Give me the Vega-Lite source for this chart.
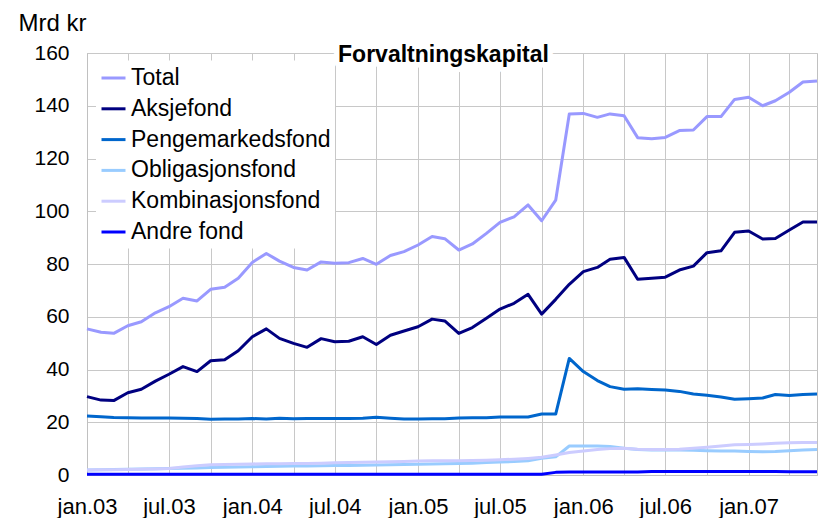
{
  "$schema": "https://vega.github.io/schema/vega-lite/v6.json",
  "width": 730,
  "height": 422,
  "autosize": {"type": "none"},
  "padding": {"left": 87, "top": 53, "right": 4, "bottom": 43},
  "background": "white",
  "config": {
    "font": "Liberation Sans",
    "view": {"stroke": "#c0c0c0", "strokeWidth": 1},
    "axis": {
      "gridColor": "#c8c8c8",
      "gridWidth": 1,
      "domainColor": "#c0c0c0",
      "labelColor": "black",
      "labelFont": "Liberation Sans",
      "ticks": false
    }
  },
  "datasets": {
    "fond": [
      {"d": "2003-01-01", "Total": 55.4, "Aksjefond": 29.7, "Pengemarkedsfond": 22.4, "Obligasjonsfond": 1.9, "Kombinasjonsfond": 1.9, "Andre fond": 0.3},
      {"d": "2003-02-01", "Total": 54.1, "Aksjefond": 28.4, "Pengemarkedsfond": 22.1, "Obligasjonsfond": 2.0, "Kombinasjonsfond": 2.0, "Andre fond": 0.3},
      {"d": "2003-03-01", "Total": 53.7, "Aksjefond": 28.2, "Pengemarkedsfond": 21.8, "Obligasjonsfond": 2.1, "Kombinasjonsfond": 2.0, "Andre fond": 0.3},
      {"d": "2003-04-01", "Total": 56.6, "Aksjefond": 31.2, "Pengemarkedsfond": 21.7, "Obligasjonsfond": 2.2, "Kombinasjonsfond": 2.1, "Andre fond": 0.3},
      {"d": "2003-05-01", "Total": 58.1, "Aksjefond": 32.5, "Pengemarkedsfond": 21.6, "Obligasjonsfond": 2.3, "Kombinasjonsfond": 2.2, "Andre fond": 0.3},
      {"d": "2003-06-01", "Total": 61.5, "Aksjefond": 35.6, "Pengemarkedsfond": 21.6, "Obligasjonsfond": 2.4, "Kombinasjonsfond": 2.3, "Andre fond": 0.3},
      {"d": "2003-07-01", "Total": 63.8, "Aksjefond": 38.2, "Pengemarkedsfond": 21.6, "Obligasjonsfond": 2.5, "Kombinasjonsfond": 2.5, "Andre fond": 0.3},
      {"d": "2003-08-01", "Total": 67.0, "Aksjefond": 41.1, "Pengemarkedsfond": 21.5, "Obligasjonsfond": 2.6, "Kombinasjonsfond": 3.0, "Andre fond": 0.3},
      {"d": "2003-09-01", "Total": 66.0, "Aksjefond": 39.2, "Pengemarkedsfond": 21.4, "Obligasjonsfond": 2.7, "Kombinasjonsfond": 3.5, "Andre fond": 0.3},
      {"d": "2003-10-01", "Total": 70.4, "Aksjefond": 43.3, "Pengemarkedsfond": 21.1, "Obligasjonsfond": 2.8, "Kombinasjonsfond": 3.9, "Andre fond": 0.3},
      {"d": "2003-11-01", "Total": 71.2, "Aksjefond": 43.7, "Pengemarkedsfond": 21.2, "Obligasjonsfond": 2.9, "Kombinasjonsfond": 4.0, "Andre fond": 0.3},
      {"d": "2003-12-01", "Total": 74.6, "Aksjefond": 47.1, "Pengemarkedsfond": 21.2, "Obligasjonsfond": 3.0, "Kombinasjonsfond": 4.1, "Andre fond": 0.3},
      {"d": "2004-01-01", "Total": 80.6, "Aksjefond": 52.4, "Pengemarkedsfond": 21.4, "Obligasjonsfond": 3.1, "Kombinasjonsfond": 4.2, "Andre fond": 0.3},
      {"d": "2004-02-01", "Total": 84.0, "Aksjefond": 55.4, "Pengemarkedsfond": 21.2, "Obligasjonsfond": 3.2, "Kombinasjonsfond": 4.3, "Andre fond": 0.3},
      {"d": "2004-03-01", "Total": 81.1, "Aksjefond": 51.8, "Pengemarkedsfond": 21.5, "Obligasjonsfond": 3.3, "Kombinasjonsfond": 4.3, "Andre fond": 0.3},
      {"d": "2004-04-01", "Total": 78.7, "Aksjefond": 49.9, "Pengemarkedsfond": 21.3, "Obligasjonsfond": 3.4, "Kombinasjonsfond": 4.4, "Andre fond": 0.3},
      {"d": "2004-05-01", "Total": 77.7, "Aksjefond": 48.4, "Pengemarkedsfond": 21.4, "Obligasjonsfond": 3.4, "Kombinasjonsfond": 4.4, "Andre fond": 0.3},
      {"d": "2004-06-01", "Total": 80.8, "Aksjefond": 51.7, "Pengemarkedsfond": 21.4, "Obligasjonsfond": 3.5, "Kombinasjonsfond": 4.5, "Andre fond": 0.3},
      {"d": "2004-07-01", "Total": 80.3, "Aksjefond": 50.5, "Pengemarkedsfond": 21.4, "Obligasjonsfond": 3.6, "Kombinasjonsfond": 4.6, "Andre fond": 0.3},
      {"d": "2004-08-01", "Total": 80.5, "Aksjefond": 50.7, "Pengemarkedsfond": 21.4, "Obligasjonsfond": 3.6, "Kombinasjonsfond": 4.7, "Andre fond": 0.3},
      {"d": "2004-09-01", "Total": 82.1, "Aksjefond": 52.4, "Pengemarkedsfond": 21.5, "Obligasjonsfond": 3.7, "Kombinasjonsfond": 4.8, "Andre fond": 0.3},
      {"d": "2004-10-01", "Total": 79.9, "Aksjefond": 49.5, "Pengemarkedsfond": 21.9, "Obligasjonsfond": 3.8, "Kombinasjonsfond": 4.9, "Andre fond": 0.3},
      {"d": "2004-11-01", "Total": 83.2, "Aksjefond": 53.0, "Pengemarkedsfond": 21.5, "Obligasjonsfond": 3.9, "Kombinasjonsfond": 5.0, "Andre fond": 0.3},
      {"d": "2004-12-01", "Total": 84.7, "Aksjefond": 54.6, "Pengemarkedsfond": 21.2, "Obligasjonsfond": 4.0, "Kombinasjonsfond": 5.1, "Andre fond": 0.3},
      {"d": "2005-01-01", "Total": 87.2, "Aksjefond": 56.2, "Pengemarkedsfond": 21.2, "Obligasjonsfond": 4.1, "Kombinasjonsfond": 5.3, "Andre fond": 0.3},
      {"d": "2005-02-01", "Total": 90.4, "Aksjefond": 59.1, "Pengemarkedsfond": 21.3, "Obligasjonsfond": 4.2, "Kombinasjonsfond": 5.4, "Andre fond": 0.3},
      {"d": "2005-03-01", "Total": 89.6, "Aksjefond": 58.4, "Pengemarkedsfond": 21.3, "Obligasjonsfond": 4.3, "Kombinasjonsfond": 5.4, "Andre fond": 0.3},
      {"d": "2005-04-01", "Total": 85.3, "Aksjefond": 53.7, "Pengemarkedsfond": 21.6, "Obligasjonsfond": 4.4, "Kombinasjonsfond": 5.4, "Andre fond": 0.3},
      {"d": "2005-05-01", "Total": 87.6, "Aksjefond": 55.9, "Pengemarkedsfond": 21.7, "Obligasjonsfond": 4.5, "Kombinasjonsfond": 5.5, "Andre fond": 0.3},
      {"d": "2005-06-01", "Total": 91.6, "Aksjefond": 59.4, "Pengemarkedsfond": 21.7, "Obligasjonsfond": 4.7, "Kombinasjonsfond": 5.6, "Andre fond": 0.3},
      {"d": "2005-07-01", "Total": 95.8, "Aksjefond": 62.9, "Pengemarkedsfond": 22.0, "Obligasjonsfond": 4.9, "Kombinasjonsfond": 5.8, "Andre fond": 0.3},
      {"d": "2005-08-01", "Total": 97.9, "Aksjefond": 65.1, "Pengemarkedsfond": 22.0, "Obligasjonsfond": 5.1, "Kombinasjonsfond": 6.0, "Andre fond": 0.3},
      {"d": "2005-09-01", "Total": 102.4, "Aksjefond": 68.5, "Pengemarkedsfond": 22.0, "Obligasjonsfond": 5.4, "Kombinasjonsfond": 6.3, "Andre fond": 0.3},
      {"d": "2005-10-01", "Total": 96.4, "Aksjefond": 61.0, "Pengemarkedsfond": 23.1, "Obligasjonsfond": 6.3, "Kombinasjonsfond": 6.7, "Andre fond": 0.3},
      {"d": "2005-11-01", "Total": 104.2, "Aksjefond": 66.6, "Pengemarkedsfond": 23.1, "Obligasjonsfond": 6.9, "Kombinasjonsfond": 7.6, "Andre fond": 1.0},
      {"d": "2005-12-01", "Total": 136.9, "Aksjefond": 72.3, "Pengemarkedsfond": 44.2, "Obligasjonsfond": 11.0, "Kombinasjonsfond": 8.5, "Andre fond": 1.1},
      {"d": "2006-01-01", "Total": 137.1, "Aksjefond": 77.1, "Pengemarkedsfond": 39.2, "Obligasjonsfond": 11.0, "Kombinasjonsfond": 9.1, "Andre fond": 1.1},
      {"d": "2006-02-01", "Total": 135.6, "Aksjefond": 78.7, "Pengemarkedsfond": 35.8, "Obligasjonsfond": 11.0, "Kombinasjonsfond": 9.7, "Andre fond": 1.1},
      {"d": "2006-03-01", "Total": 136.9, "Aksjefond": 81.8, "Pengemarkedsfond": 33.5, "Obligasjonsfond": 10.8, "Kombinasjonsfond": 10.0, "Andre fond": 1.1},
      {"d": "2006-04-01", "Total": 136.2, "Aksjefond": 82.5, "Pengemarkedsfond": 32.5, "Obligasjonsfond": 10.1, "Kombinasjonsfond": 10.1, "Andre fond": 1.1},
      {"d": "2006-05-01", "Total": 127.9, "Aksjefond": 74.2, "Pengemarkedsfond": 32.7, "Obligasjonsfond": 9.7, "Kombinasjonsfond": 9.8, "Andre fond": 1.1},
      {"d": "2006-06-01", "Total": 127.5, "Aksjefond": 74.6, "Pengemarkedsfond": 32.4, "Obligasjonsfond": 9.5, "Kombinasjonsfond": 9.7, "Andre fond": 1.3},
      {"d": "2006-07-01", "Total": 128.0, "Aksjefond": 75.0, "Pengemarkedsfond": 32.2, "Obligasjonsfond": 9.5, "Kombinasjonsfond": 9.7, "Andre fond": 1.3},
      {"d": "2006-08-01", "Total": 130.6, "Aksjefond": 77.7, "Pengemarkedsfond": 31.7, "Obligasjonsfond": 9.5, "Kombinasjonsfond": 9.8, "Andre fond": 1.3},
      {"d": "2006-09-01", "Total": 130.8, "Aksjefond": 79.2, "Pengemarkedsfond": 30.7, "Obligasjonsfond": 9.4, "Kombinasjonsfond": 10.1, "Andre fond": 1.3},
      {"d": "2006-10-01", "Total": 135.9, "Aksjefond": 84.3, "Pengemarkedsfond": 30.2, "Obligasjonsfond": 9.2, "Kombinasjonsfond": 10.5, "Andre fond": 1.3},
      {"d": "2006-11-01", "Total": 135.9, "Aksjefond": 85.0, "Pengemarkedsfond": 29.6, "Obligasjonsfond": 9.1, "Kombinasjonsfond": 11.0, "Andre fond": 1.3},
      {"d": "2006-12-01", "Total": 142.4, "Aksjefond": 92.0, "Pengemarkedsfond": 28.7, "Obligasjonsfond": 9.1, "Kombinasjonsfond": 11.5, "Andre fond": 1.3},
      {"d": "2007-01-01", "Total": 143.2, "Aksjefond": 92.5, "Pengemarkedsfond": 28.9, "Obligasjonsfond": 8.9, "Kombinasjonsfond": 11.6, "Andre fond": 1.3},
      {"d": "2007-02-01", "Total": 140.0, "Aksjefond": 89.5, "Pengemarkedsfond": 29.2, "Obligasjonsfond": 8.8, "Kombinasjonsfond": 11.8, "Andre fond": 1.3},
      {"d": "2007-03-01", "Total": 141.9, "Aksjefond": 89.7, "Pengemarkedsfond": 30.5, "Obligasjonsfond": 8.9, "Kombinasjonsfond": 12.0, "Andre fond": 1.3},
      {"d": "2007-04-01", "Total": 145.1, "Aksjefond": 92.9, "Pengemarkedsfond": 30.1, "Obligasjonsfond": 9.2, "Kombinasjonsfond": 12.2, "Andre fond": 1.2},
      {"d": "2007-05-01", "Total": 149.0, "Aksjefond": 95.9, "Pengemarkedsfond": 30.5, "Obligasjonsfond": 9.5, "Kombinasjonsfond": 12.3, "Andre fond": 1.2},
      {"d": "2007-06-01", "Total": 149.4, "Aksjefond": 95.9, "Pengemarkedsfond": 30.7, "Obligasjonsfond": 9.7, "Kombinasjonsfond": 12.3, "Andre fond": 1.2}
    ]
  },
  "layer": [
    {
      "data": {"name": "fond"},
      "transform": [
        {"fold": ["Total", "Aksjefond", "Pengemarkedsfond", "Obligasjonsfond", "Kombinasjonsfond", "Andre fond"], "as": ["serie", "verdi"]}
      ],
      "mark": {"type": "line", "strokeWidth": 3, "strokeJoin": "round"},
      "encoding": {
        "x": {
          "field": "d",
          "type": "temporal",
          "scale": {
            "type": "utc",
            "nice": false,
            "domain": [
              {"year": 2003, "month": 1, "date": 1, "utc": true},
              {"year": 2007, "month": 6, "date": 1, "utc": true}
            ]
          },
          "axis": {
            "title": null,
            "tickCount": {"interval": "month", "step": 3},
            "labelExpr": "utcmonth(datum.value) == 0 ? 'jan.' + utcFormat(datum.value, '%y') : (utcmonth(datum.value) == 6 ? 'jul.' + utcFormat(datum.value, '%y') : '')",
            "labelOverlap": false,
            "labelFontSize": 22,
            "labelPadding": 21,
            "labelAlign": "center",
            "labelFlush": false,
            "grid": true
          }
        },
        "y": {
          "field": "verdi",
          "type": "quantitative",
          "scale": {"domain": [0, 160], "nice": false, "zero": true},
          "axis": {
            "values": [0, 20, 40, 60, 80, 100, 120, 140, 160],
            "labelFontSize": 21,
            "labelPadding": 18,
            "grid": true,
            "title": "Mrd kr",
            "titleAngle": 0,
            "titleAlign": "left",
            "titleBaseline": "alphabetic",
            "titleX": -69,
            "titleY": -23,
            "titleFontSize": 24,
            "titleFontWeight": "normal",
            "titleColor": "black",
            "titleFont": "Liberation Sans"
          }
        },
        "color": {
          "field": "serie",
          "type": "nominal",
          "scale": {
            "domain": ["Total", "Aksjefond", "Pengemarkedsfond", "Obligasjonsfond", "Kombinasjonsfond", "Andre fond"],
            "range": ["#9999FF", "#000080", "#0066CC", "#99CCFF", "#CCCCFF", "#0000FF"]
          },
          "legend": {
            "orient": "none",
            "legendX": 9,
            "legendY": 7.5,
            "title": null,
            "fillColor": "white",
            "padding": 4,
            "symbolType": "stroke",
            "symbolSize": 576,
            "symbolStrokeWidth": 3,
            "labelFontSize": 23,
            "labelOffset": 4,
            "rowPadding": 4.8,
            "labelColor": "black",
            "labelFont": "Liberation Sans",
            "labelLimit": 400
          }
        }
      }
    },
    {
      "data": {"values": [{"t": "Forvaltningskapital"}]},
      "mark": {"type": "text", "font": "Liberation Sans", "fontSize": 23, "fontWeight": "bold", "align": "center", "baseline": "alphabetic", "dy": 8.5, "fill": "white", "stroke": "white", "strokeWidth": 11, "strokeJoin": "round"},
      "encoding": {
        "x": {"datum": {"year": 2005, "month": 2, "date": 26, "hours": 5, "utc": true}, "type": "temporal"},
        "y": {"datum": 160, "type": "quantitative"},
        "text": {"field": "t"}
      }
    },
    {
      "data": {"values": [{"t": "Forvaltningskapital"}]},
      "mark": {"type": "text", "font": "Liberation Sans", "fontSize": 23, "fontWeight": "bold", "align": "center", "baseline": "alphabetic", "dy": 8.5, "fill": "black"},
      "encoding": {
        "x": {"datum": {"year": 2005, "month": 2, "date": 26, "hours": 5, "utc": true}, "type": "temporal"},
        "y": {"datum": 160, "type": "quantitative"},
        "text": {"field": "t"}
      }
    }
  ]
}
